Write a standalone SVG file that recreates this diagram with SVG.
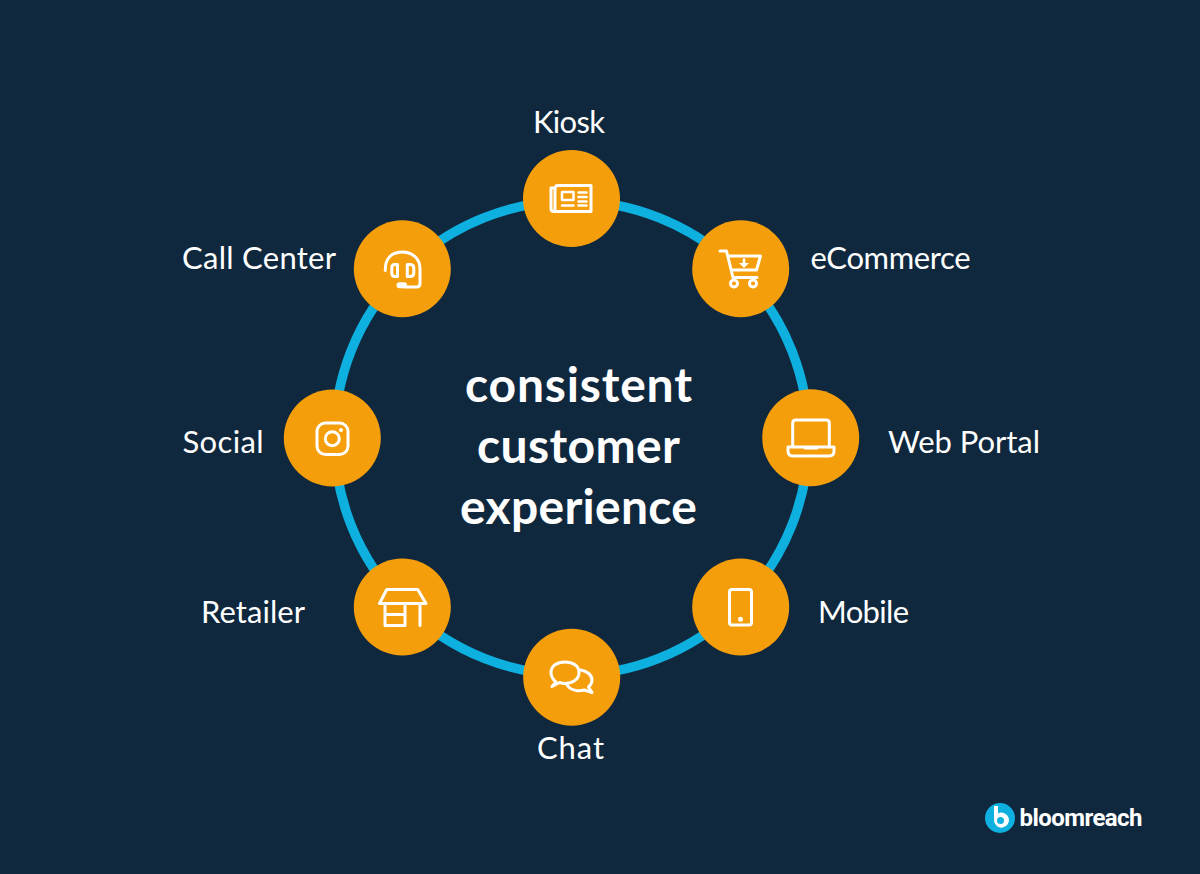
<svg xmlns="http://www.w3.org/2000/svg" width="1200" height="874" viewBox="0 0 1200 874">
<style>
.bg{fill:#0f283e}
.ring{fill:none;stroke:#0db0de;stroke-width:9.500}
.node{fill:#f59e0b}
.ic{fill:none;stroke:#fff;stroke-width:3;stroke-linecap:round;stroke-linejoin:round}
.th{stroke-width:2.500}
.w{fill:#fff}
.lb{font-family:Lato,"Noto Sans",sans-serif;font-size:31px;fill:#fff}
.tt{font-family:Lato,"Noto Sans",sans-serif;font-weight:700;font-size:48px;fill:#fff}
.br{font-family:Roboto,"Liberation Sans",sans-serif;font-weight:700;font-size:24px;fill:#fff}
</style>
<rect class="bg" width="1200" height="874"/>
<g id="connectors"><circle class="ring" cx="571.500" cy="438" r="237"/></g>
<g id="kiosk"><circle class="node" cx="571.500" cy="198.500" r="48.500"/>
<path class="ic" d="M555 188H551V208.500Q551 211.500 554 211.500H591V185.500H558Q555 185.500 555 188.500V211"/>
<path class="ic th" d="M562 192H573.500V200H562ZM578.500 192.500H586.500M578.500 197H586.500M578.500 201.500H586.500M562 205.500H573.500M578.500 205.500H586.500"/>
<text class="lb" x="533" y="133" textLength="72">Kiosk</text></g>
<g id="ecommerce"><circle class="node" cx="740.700" cy="268.700" r="48.500"/>
<path class="ic" d="M720 251H726.500L733 277.500H757M728 256H760.500L756.500 270H731"/>
<path class="ic th" d="M744 259.500V263"/><path class="w" d="M739 263H749L744 268Z"/>
<circle class="ic" cx="734" cy="283.500" r="3.500"/><circle class="ic" cx="753" cy="283.500" r="3.500"/>
<text class="lb" x="810.500" y="269" textLength="160">eCommerce</text></g>
<g id="web-portal"><circle class="node" cx="810.700" cy="437.700" r="48.500"/>
<path class="ic" d="M792.700 446.700V423Q792.700 420 795.700 420H826.300Q829.300 420 829.300 423V446.700"/>
<path class="ic" d="M788 447H834V451Q834 456 829 456H793Q788 456 788 451ZM805 448H817"/>
<text class="lb" x="888" y="453" textLength="152">Web Portal</text></g>
<g id="mobile"><circle class="node" cx="740.700" cy="607" r="48.500"/>
<rect class="ic" x="729.500" y="589.500" width="22" height="35.500" rx="2.500"/><circle class="w" cx="740.500" cy="619.300" r="2.500"/>
<text class="lb" x="818" y="622.500" textLength="91">Mobile</text></g>
<g id="chat"><circle class="node" cx="571.700" cy="677.300" r="48.500"/>
<path class="ic" d="M552 686.500L556 682Q551 678 551 672.500C551 666 557 662 565 662C573 662 579 666 579 672.500C579 679 573 683.500 565 683.500Q562 683.500 559.500 682.500Z"/>
<path class="ic" d="M581 670C587 671 592 675 592 680Q592 684 588.500 687L592 692.500L584.500 690Q580 691 576 690.500Q570 689.500 567 685"/>
<text class="lb" x="537" y="759" textLength="67">Chat</text></g>
<g id="retailer"><circle class="node" cx="402.300" cy="607" r="48.500"/>
<path class="ic" d="M386.700 589.500H417.700L426 603.500H379.500ZM385 604V625.500H405V604M385 614.500H405M420 604V625.500"/>
<text class="lb" x="201" y="622.500" textLength="104">Retailer</text></g>
<g id="social"><circle class="node" cx="332.300" cy="438" r="48.500"/>
<rect class="ic" x="317" y="423" width="31" height="31.500" rx="8.500"/><circle class="ic" cx="332.300" cy="438.700" r="7"/><circle class="w" cx="341" cy="430" r="2"/>
<text class="lb" x="182.500" y="453" textLength="81">Social</text></g>
<g id="call-center"><circle class="node" cx="402.300" cy="268.700" r="48.500"/>
<path class="ic" d="M385.300 270.500C385 258 392 252 402.300 252C413 252 420 259 420 269V283.500Q420 287 416.500 287H405"/>
<path class="ic" d="M394.800 264.500Q391.800 264.500 391.800 268V273Q391.800 276.500 394.800 276.500H397.500V264.500ZM409.800 264.500Q413.800 264.500 413.800 268V273Q413.800 276.500 409.800 276.500H407.300V264.500Z"/>
<path class="ic" style="stroke-width:6" d="M399.500 285.300H404"/>
<text class="lb" x="182" y="269" textLength="154">Call Center</text></g>
<g id="center-title">
<text class="tt" x="465" y="402" textLength="227">consistent</text>
<text class="tt" x="477" y="463" textLength="203">customer</text>
<text class="tt" x="460" y="524" textLength="237">experience</text></g>
<g id="logo"><circle cx="1000" cy="818" r="15" fill="#0db0de"/>
<path class="w" d="M994 806H998V813.500A7.500 7.500 0 1 1 994 820Z"/><circle cx="1000.500" cy="820.500" r="3.500" fill="#0db0de"/>
<text class="br" x="1019.500" y="825.500" textLength="123">bloomreach</text></g>
</svg>
